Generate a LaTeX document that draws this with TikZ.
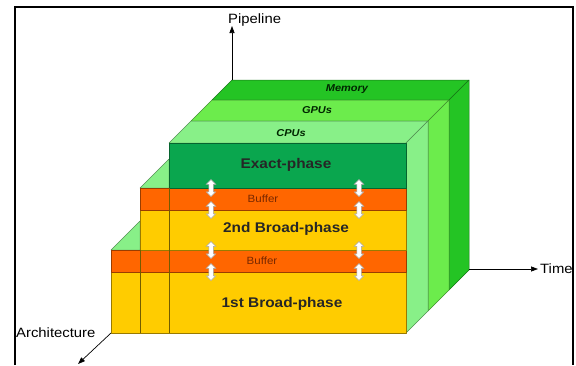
\documentclass[tikz,border=0pt]{standalone}
\usepackage{fontspec}
\setmainfont{Liberation Sans}[FakeStretch=1.1]
\usetikzlibrary{arrows.meta,shapes.arrows}
\definecolor{cpugreen}{RGB}{136,240,136}
\definecolor{gpugreen}{RGB}{108,236,76}
\definecolor{memgreen}{RGB}{36,196,36}
\definecolor{exactgreen}{RGB}{10,166,78}
\definecolor{bufferorange}{RGB}{255,102,0}
\definecolor{broadyellow}{RGB}{255,204,0}
\definecolor{buffertext}{RGB}{120,40,0}

\begin{document}
\begin{tikzpicture}[x=1pt,y=-1pt,
    face/.style={fill=#1, draw=#1!60!black, line width=0.5pt, line join=round},
    column/.style={draw=broadyellow!45!black, line width=0.5pt},
    axis/.style={line width=0.7pt, -{Triangle[length=7pt,width=5pt]}},
    axislabel/.style={inner sep=0pt, font=\fontsize{13.5}{16}\selectfont},
    phase/.style={inner sep=0pt, text=black!85, font=\fontsize{14}{17}\selectfont\bfseries},
    buffer/.style={inner sep=0pt, text=buffertext, font=\fontsize{10.5}{12}\selectfont},
    unit/.style={inner sep=0pt, text=black!85!green, font=\fontsize{10}{12}\selectfont\bfseries\itshape},
    link/.style={double arrow, rotate=90, draw=gray!70, fill=white, line width=0.5pt,
        inner xsep=0pt, inner ysep=2pt, minimum width=9pt, minimum height=17pt,
        double arrow head extend=2.5pt, double arrow head indent=0pt}]
    \useasboundingbox (0,0) rectangle (576,365);

    % Memory, GPUs and CPUs slices: tops and right sides
    \foreach \da/\db/\col in {43/63/memgreen, 22/43/gpugreen, 0/22/cpugreen} {
        \filldraw[face=\col] (169+\da,143-\da) -- (406+\da,143-\da) -- (406+\db,143-\db) -- (169+\db,143-\db) -- cycle;
        \filldraw[face=\col] (406+\da,143-\da) -- (406+\db,143-\db) -- (406+\db,333-\db) -- (406+\da,333-\da) -- cycle;
    }
    \node[unit] (memory) at (347,89) {Memory};
    \node[unit] (gpus) at (317,110) {GPUs};
    \node[unit] (cpus) at (291,133) {CPUs};

    % Tops of the steps
    \filldraw[face=cpugreen] (111,250) -- (140,221) -- (140,250) -- cycle;
    \filldraw[face=cpugreen] (140,188) -- (169,159) -- (169,188) -- cycle;

    % Front: phases and buffers
    \filldraw[face=broadyellow] (111,272) rectangle (406,333);
    \filldraw[face=bufferorange] (111,250) rectangle (406,272);
    \filldraw[face=broadyellow] (140,210) rectangle (406,250);
    \filldraw[face=bufferorange] (140,188) rectangle (406,210);
    \filldraw[face=exactgreen] (169,143) rectangle (406,188);
    \draw[column] (140,250) -- (140,333);
    \draw[column] (169,188) -- (169,333);

    \node[phase] (exact) at (286,165) {Exact-phase};
    \node[buffer] (buffer2) at (263,199) {Buffer};
    \node[phase] (broad2) at (286,229) {2nd Broad-phase};
    \node[buffer] (buffer1) at (262,261) {Buffer};
    \node[phase] (broad1) at (282,304) {1st Broad-phase};

    % Exchange between layers
    \foreach \y [count=\i] in {188,210,250,272}
        \foreach \x/\s in {211/a,359/b}
            \node[link] (link\i\s) at (\x,\y) {};

    % Axes
    \coordinate (backtop) at (232,80);
    \coordinate (backbottom) at (469,269);
    \coordinate (frontbottom) at (111,333);
    \coordinate (pipetip) at (232,26);
    \coordinate (timetip) at (538,269);
    \coordinate (archtip) at (78,364);
    \draw[axis] (backtop) -- (pipetip);
    \draw[axis] (backbottom) -- (timetip);
    \draw[axis] (frontbottom) -- (archtip);
    \node[axislabel, anchor=base west] (pipeline) at (228,23) {Pipeline};
    \node[axislabel, anchor=base west] (time) at (540,273) {Time};
    \node[axislabel, anchor=base west] (architecture) at (16,337) {Architecture};

    % Frame
    \draw[line width=2.4pt] (15,365) -- (15,7) -- (573,7) -- (573,365);
\end{tikzpicture}
\end{document}
